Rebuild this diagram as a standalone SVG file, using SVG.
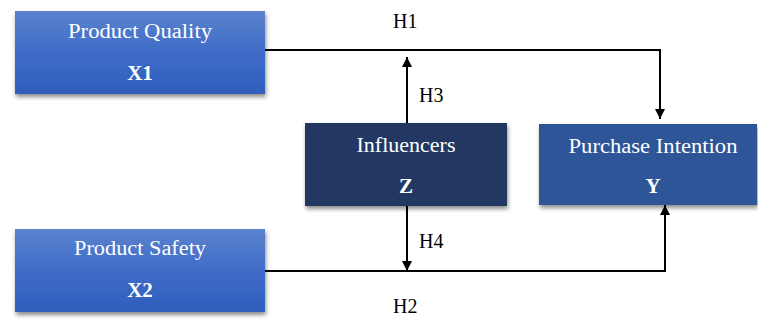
<svg xmlns="http://www.w3.org/2000/svg" width="758" height="320" viewBox="0 0 758 320">
<defs>
<linearGradient id="lg" x1="0" y1="0" x2="0" y2="1">
<stop offset="0" stop-color="#5b82ce"/>
<stop offset="0.5" stop-color="#3f6cc8"/>
<stop offset="1" stop-color="#2f5ebd"/>
</linearGradient>
<filter id="sh" x="-10%" y="-10%" width="125%" height="135%">
<feDropShadow dx="1" dy="3" stdDeviation="2" flood-color="#000" flood-opacity="0.45"/>
</filter>
<marker id="ah" viewBox="0 0 10 10" refX="10" refY="5" markerWidth="10" markerHeight="10" markerUnits="userSpaceOnUse" orient="auto">
<path d="M0,0 L10,5 L0,10 z" fill="#000"/>
</marker>
</defs>
<style>
.t{font-family:"Liberation Serif","Times New Roman",serif;font-size:20px;fill:#fff;text-anchor:middle}
.b{font-weight:bold;font-size:21px}
.l{font-family:"Liberation Serif","Times New Roman",serif;font-size:20px;fill:#000}
.c{fill:none;stroke:#000;stroke-width:2}
</style>
<rect width="758" height="320" fill="#fff"/>
<g id="connectors">
<path class="c" d="M265,50 H660 V119" marker-end="url(#ah)"/>
<path class="c" d="M407,123 V57" marker-end="url(#ah)"/>
<path class="c" d="M407,206 V271" marker-end="url(#ah)"/>
<path class="c" d="M265,271 H665 V205" marker-end="url(#ah)"/>
<text class="l" x="393" y="28">H1</text>
<text class="l" x="419" y="102">H3</text>
<text class="l" x="419" y="248">H4</text>
<text class="l" x="393" y="313">H2</text>
</g>
<g id="x1">
<rect x="15" y="11" width="250" height="83" fill="url(#lg)" filter="url(#sh)"/>
<text class="t" x="140" y="38" textLength="144" lengthAdjust="spacingAndGlyphs">Product Quality</text>
<text class="t b" x="140" y="80">X1</text>
</g>
<g id="x2">
<rect x="15" y="229" width="250" height="83" fill="url(#lg)" filter="url(#sh)"/>
<text class="t" x="140" y="255" textLength="132" lengthAdjust="spacingAndGlyphs">Product Safety</text>
<text class="t b" x="140" y="297">X2</text>
</g>
<g id="z">
<rect x="305" y="123" width="202" height="83" fill="#203864" filter="url(#sh)"/>
<text class="t" x="406" y="152" textLength="99" lengthAdjust="spacingAndGlyphs">Influencers</text>
<text class="t b" x="406" y="193">Z</text>
</g>
<g id="y">
<rect x="539" y="124" width="218" height="81" fill="#2f5597" filter="url(#sh)"/>
<text class="t" x="653" y="153" textLength="169" lengthAdjust="spacingAndGlyphs">Purchase Intention</text>
<text class="t b" x="653" y="193">Y</text>
</g>
</svg>
